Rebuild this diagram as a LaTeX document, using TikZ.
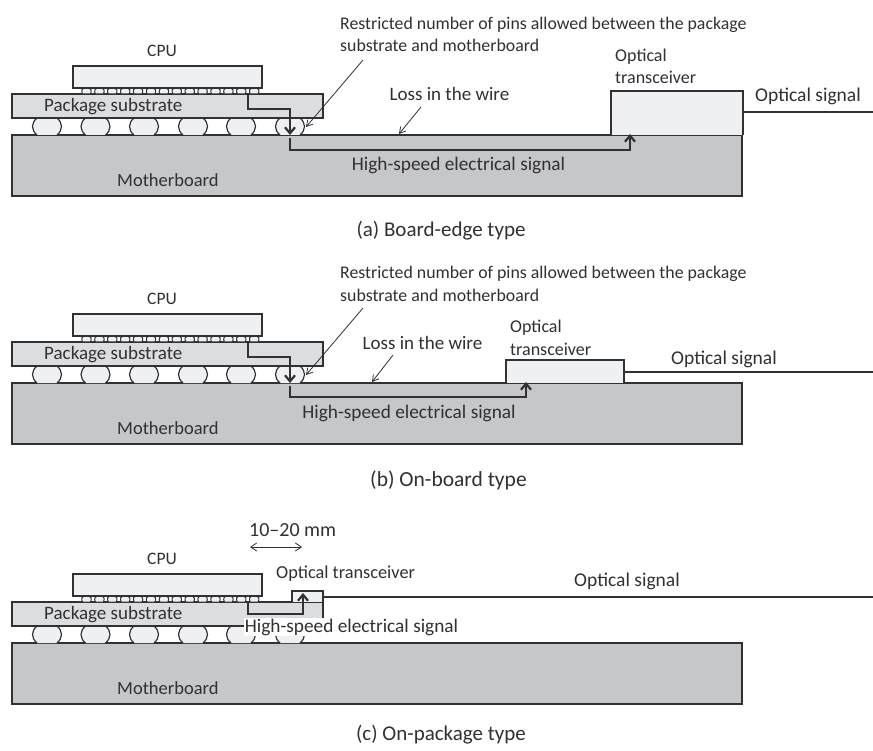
\documentclass[tikz,border=0pt]{standalone}
\usepackage{fontspec}
\setmainfont{Carlito}
\usetikzlibrary{arrows.meta}
\definecolor{board}{RGB}{198,199,200}
\definecolor{subst}{RGB}{220,221,222}
\definecolor{light}{RGB}{239,240,242}
\definecolor{ink}{RGB}{50,48,50}
\tikzset{
 lbl/.style={font=\fontsize{#1}{22.5}\selectfont,text=ink,inner sep=0pt},
 lbl/.default=18,
 part/.style={draw=ink,line width=1.4pt},
 sig/.style={draw=ink,line width=2.2pt,line join=miter},
 sigarr/.style={sig,-{Straight Barb[length=6pt,width=10pt,line width=2.2pt]}},
 leader/.style={draw=ink,line width=0.8pt,-{Straight Barb[length=6pt,width=7pt]}},
 optic/.style={draw=ink,line width=1.6pt},
}
\newcommand{\assembly}[2]{%
 \begin{scope}[yshift=-#1pt]
  \fill[board] (12,135) rectangle (742,196);
  \draw[part] (12,135) rectangle (742,196);
  \foreach \bx in {47,95.5,144,193,241,290}{
   \fill[light] (\bx-10,118) .. controls (\bx-16,123) and (\bx-16,130) .. (\bx-10,135) -- (\bx+10,135) .. controls (\bx+16,130) and (\bx+16,123) .. (\bx+10,118) -- cycle;
   \draw[draw=ink,line width=1.2pt] (\bx-10,118) .. controls (\bx-16,123) and (\bx-16,130) .. (\bx-10,135);
   \draw[draw=ink,line width=1.2pt] (\bx+10,118) .. controls (\bx+16,123) and (\bx+16,130) .. (\bx+10,135);
  }
  \draw[part,fill=subst] (12,94) rectangle (323,118);
  \foreach \px in {0,...,13}{
   \draw[draw=ink,line width=1pt,fill=light] (82.5+\px*12.9,94) .. controls (81+\px*12.9,91) and (82+\px*12.9,88) .. (84+\px*12.9,88) -- (89+\px*12.9,88) .. controls (91+\px*12.9,88) and (92+\px*12.9,91) .. (90.5+\px*12.9,94) -- cycle;
  }
  \draw[part,fill=light] (73,66) rectangle (262,88);
  \node[lbl=17.5] (cpu#1) at (162,51) {CPU};
  \node[lbl=19,anchor=west] (pkg#1) at (44,107) {Package substrate};
  \node[lbl=18.5,anchor=west] (mb#1) at (117,180) {Motherboard};
  #2
 \end{scope}}
\begin{document}
\begin{tikzpicture}[x=1pt,y=-1pt]
\useasboundingbox (0,0) rectangle (873,751);
\fill[white] (0,0) rectangle (873,751);
% (a)
\assembly{0}{
 \draw[part,fill=light] (611,135) -- (611,91) -- (743,91) -- (743,135);
 \coordinate (a1) at (248,94); \coordinate (a2) at (290,135);
 \draw[sigarr] (a1) |- (290,109) -- (a2);
 \coordinate (a3) at (290,138); \coordinate (a4) at (630,134);
 \draw[sigarr] (a3) |- (630,150) -- (a4);
 \coordinate (a5) at (743,112); \coordinate (a6) at (873,112);
 \draw[optic] (a5) -- (a6);
 \node[lbl=17.8,anchor=west,align=left] (r1) at (340,34.5) {Restricted number of pins allowed between the package\\substrate and motherboard};
 \coordinate (r1e) at (363,60); \coordinate (r1t) at (306,127);
 \draw[leader] (r1e) -- (r1t);
 \node[lbl=19] (l1) at (449.5,94) {Loss in the wire};
 \coordinate (l1e) at (421,107); \coordinate (l1t) at (399,134);
 \draw[leader] (l1e) -- (l1t);
 \node[lbl=19.3] (h1) at (458.5,165) {High-speed electrical signal};
 \node[lbl=18,anchor=west,align=left] (t1) at (615,66.5) {Optical\\transceiver};
 \node[lbl=19.5,anchor=west] (o1) at (755,96) {Optical signal};
}
\node[lbl=21] (ca) at (441,231) {(a) Board-edge type};
% (b)
\assembly{248}{
 \draw[part,fill=light] (506,135) -- (506,112) -- (624,112) -- (624,135);
 \coordinate (b1) at (248,94); \coordinate (b2) at (290,135);
 \draw[sigarr] (b1) |- (290,109) -- (b2);
 \coordinate (b3) at (290,138); \coordinate (b4) at (526,134);
 \draw[sigarr] (b3) |- (526,149) -- (b4);
 \coordinate (b5) at (624,124); \coordinate (b6) at (873,124);
 \draw[optic] (b5) -- (b6);
 \node[lbl=17.8,anchor=west,align=left] (r2) at (340,36) {Restricted number of pins allowed between the package\\substrate and motherboard};
 \coordinate (r2e) at (363,60); \coordinate (r2t) at (306,127);
 \draw[leader] (r2e) -- (r2t);
 \node[lbl=19] (l2) at (422.5,95) {Loss in the wire};
 \coordinate (l2e) at (393,107); \coordinate (l2t) at (372,134);
 \draw[leader] (l2e) -- (l2t);
 \node[lbl=19.3] (h2) at (409,165) {High-speed electrical signal};
 \node[lbl=18,anchor=west,align=left] (t2) at (510,90) {Optical\\transceiver};
 \node[lbl=19.5,anchor=west] (o2) at (671,111) {Optical signal};
}
\node[lbl=21.5] (cb) at (448.5,480) {(b) On-board type};
% (c)
\assembly{508}{
 \draw[part,fill=light] (292,94) -- (292,83) -- (323,83) -- (323,94);
 \coordinate (c1) at (248,94); \coordinate (c2) at (303,85);
 \draw[sigarr] (c1) |- (303,106) -- (c2);
 \coordinate (c5) at (323,89); \coordinate (c6) at (873,89);
 \draw[optic] (c5) -- (c6);
 \node[lbl=19.3,fill=white,inner sep=1pt] (h3) at (351.5,119) {High-speed electrical signal};
 \node[lbl=18.3,anchor=west] (t3) at (276,66) {Optical transceiver};
 \node[lbl=19.5,anchor=west] (o3) at (574,73) {Optical signal};
 \node[lbl=20,anchor=west] (d3) at (249,22) {10–20 mm};
 \coordinate (d1) at (250,39); \coordinate (d2) at (302,39);
 \draw[draw=ink,line width=0.8pt,{Straight Barb[length=6pt,width=8pt]}-{Straight Barb[length=6pt,width=8pt]}] (d1) -- (d2);
}
\node[lbl=21] (cc) at (441,735) {(c) On-package type};
\end{tikzpicture}
\end{document}
